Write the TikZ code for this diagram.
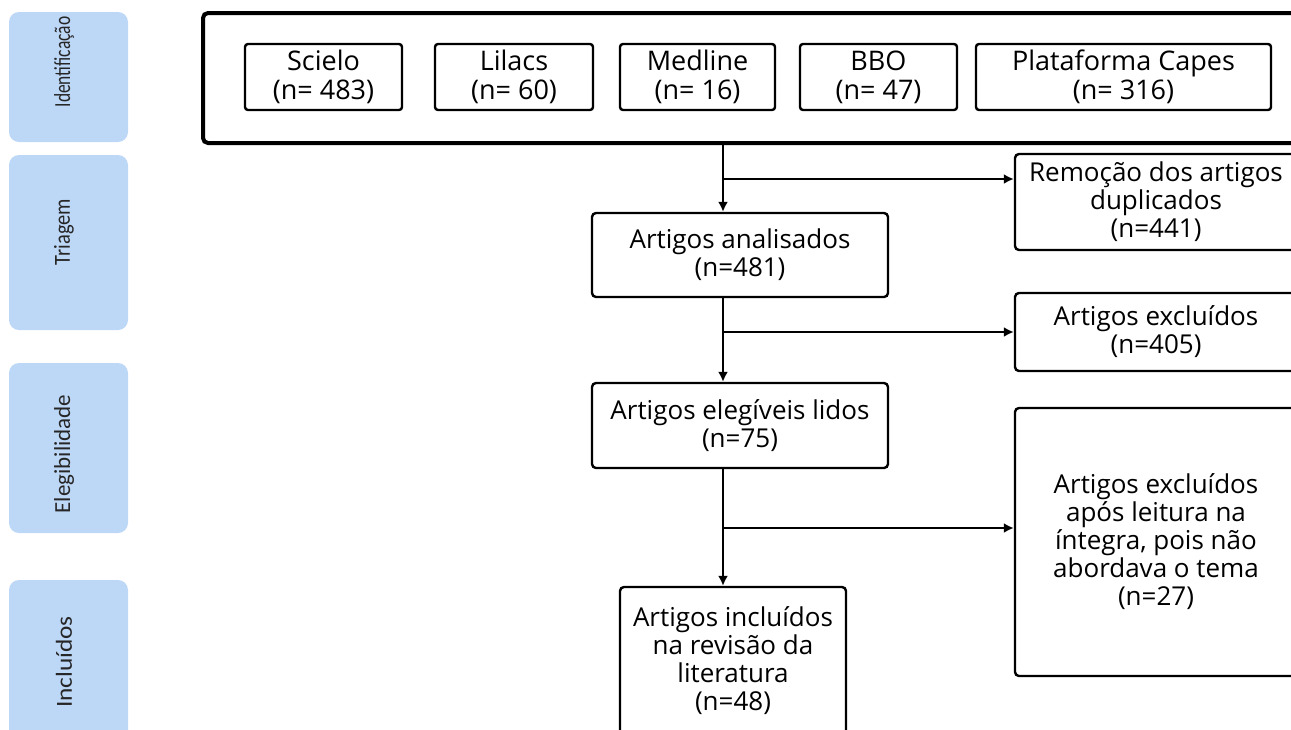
\documentclass[tikz,border=0pt]{standalone}
\usepackage{fontspec}
\usepackage{graphicx}
\setmainfont{Open Sans}
\newfontfamily\sidefont{Carlito}
\usetikzlibrary{arrows.meta}
\definecolor{barblue}{RGB}{189,215,247}
\tikzset{>={Latex[length=5pt,width=5pt]}}

\begin{document}
\begin{tikzpicture}[x=0.5pt, y=-0.5pt]
	\tikzstyle{bar} = [fill=barblue, rounded corners=5pt, minimum width=59.5pt, inner sep=0pt]
	\tikzstyle{barlabel} = [rotate=90, inner sep=0pt, font=\sidefont\fontsize{11.5}{13}\selectfont, text=black!85]
	\tikzstyle{src} = [draw, line width=1.2pt, rounded corners=1.5pt, minimum height=33pt, inner sep=0pt, align=center, font=\fontsize{13.5}{14.5}\selectfont]
	\tikzstyle{box} = [draw, line width=1.2pt, rounded corners=2pt, inner sep=0pt, align=center, font=\fontsize{13}{14}\selectfont]
	\tikzstyle{edge} = [->, line width=1pt]

	\useasboundingbox (0,0) rectangle (1291,729);

%----------Barras laterais------------------------------------
	\node[bar, minimum height=65pt] (bident) at (68.5,77) {};
	\node[bar, minimum height=87.5pt] (btriag) at (68.5,242.5) {};
	\node[bar, minimum height=85pt] (belegi) at (68.5,448) {};
	\node[bar, minimum height=82.5pt] (bincl) at (68.5,662.5) {};

	\node[barlabel] (lident) at (64,62) {\scalebox{0.76}[1]{Identificação}};
	\node[barlabel] (ltriag) at (64,232) {\scalebox{0.89}[1]{Triagem}};
	\node[barlabel] (lelegi) at (64,454) {Elegibilidade};
	\node[barlabel] (lincl) at (64,662) {\scalebox{1.1}[1]{Incluídos}};

%----------Identificação--------------------------------------
	\node[draw, line width=2pt, rounded corners=2.5pt, minimum width=548.5pt, minimum height=65pt] (busca) at (751.5,78) {};

	\node[src, minimum width=78.5pt] (scielo) at (323.5,77) {Scielo\\(n= 483)};
	\node[src, minimum width=79pt] (lilacs) at (514,77) {Lilacs\\(n= 60)};
	\node[src, minimum width=77.5pt] (medline) at (697.5,77) {Medline\\(n= 16)};
	\node[src, minimum width=78.5pt] (bbo) at (878.5,77) {BBO\\(n= 47)};
	\node[src, minimum width=147.5pt] (capes) at (1123.5,77) {Plataforma Capes\\(n= 316)};

%----------Triagem e elegibilidade----------------------------
	\node[box, minimum width=148pt, minimum height=42pt] (analis) at (740,255) {Artigos analisados\\(n=481)};
	\node[box, minimum width=148pt, minimum height=42.5pt] (eleg) at (740,425.5) {Artigos elegíveis lidos\\(n=75)};
	\node[box, minimum width=113pt, minimum height=74pt] (incl) at (733,661) {Artigos incluídos\\na revisão da\\literatura\\(n=48)};

	\node[box, minimum width=141pt, minimum height=48pt] (remoc) at (1156,202) {Remoção dos artigos\\duplicados\\(n=441)};
	\node[box, minimum width=141pt, minimum height=39pt] (excl) at (1156,332) {Artigos excluídos\\(n=405)};
	\node[box, minimum width=141pt, minimum height=134pt] (exclint) at (1156,542) {Artigos excluídos\\após leitura na\\íntegra, pois não\\abordava o tema\\(n=27)};

%----------Setas----------------------------------------------
	\coordinate (b1) at (723,179);
	\coordinate (b2) at (723,332);
	\coordinate (b3) at (723,528);

	\draw[edge] (busca.south -| b1) -- (analis.north -| b1);
	\draw[edge] (analis.south -| b2) -- (eleg.north -| b2);
	\draw[edge] (eleg.south -| b3) -- (incl.north -| b3);

	\draw[edge] (b1) -- (b1 -| remoc.west);
	\draw[edge] (b2) -- (b2 -| excl.west);
	\draw[edge] (b3) -- (b3 -| exclint.west);
\end{tikzpicture}
\end{document}
